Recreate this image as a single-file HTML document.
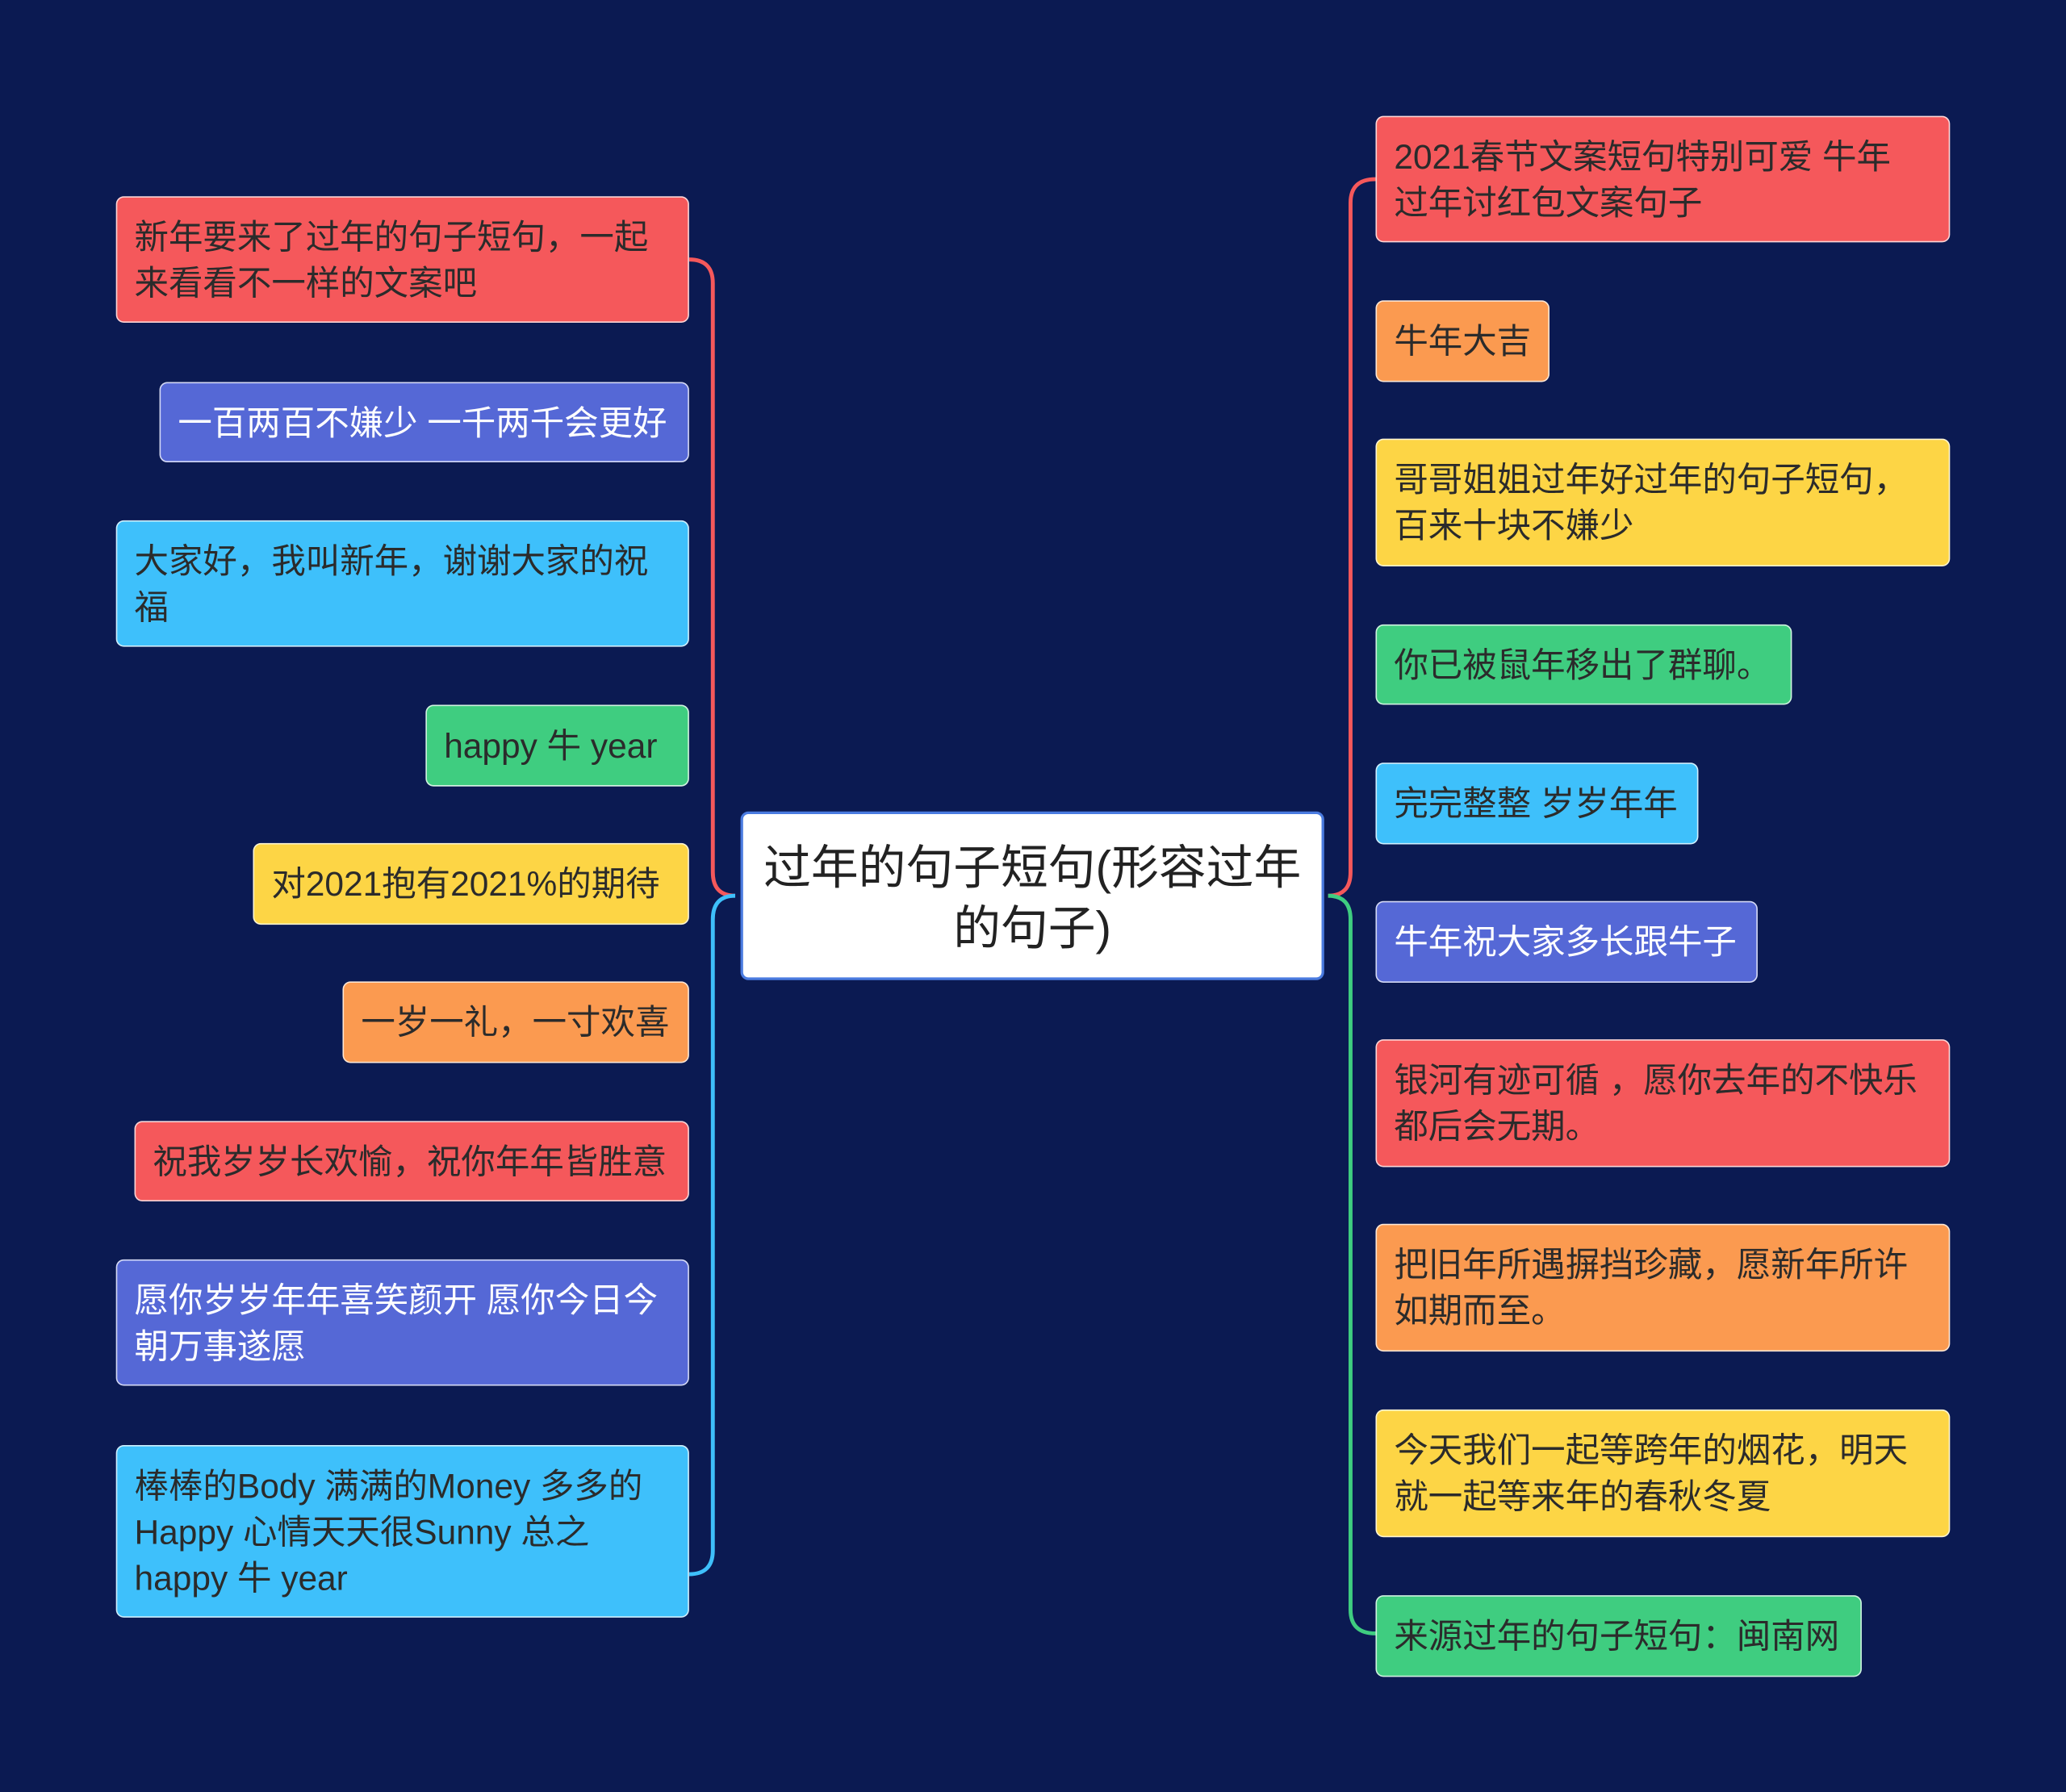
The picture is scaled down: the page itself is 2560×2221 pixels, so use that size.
<!DOCTYPE html>
<html><head><meta charset="utf-8"><style>
html,body{margin:0;padding:0;background:#0b1a52;overflow:hidden}
#w{position:absolute;left:0;top:0;width:1568px;height:1360px;transform:scale(1.63265);transform-origin:0 0;background:#0b1a52}
.n{position:absolute;box-sizing:border-box;border-radius:6px;border:1.5px solid rgba(255,255,255,0.75);font-family:"Liberation Sans","Noto Sans CJK SC",sans-serif;font-size:26px;line-height:35px;color:#2b2b2b;padding:13px 13px 9px;white-space:nowrap}
.r{background:#f5585b}.p{background:#5568d6;color:#fff}.b{background:#3ec0fb}.g{background:#3fcd80}.y{background:#fdd545}.o{background:#fb9a50}
.c{position:absolute;left:562px;top:616px;width:443px;height:128px;box-sizing:border-box;background:#fff;border:2px solid #4a7be0;border-radius:6px;font-family:"Liberation Sans","Noto Sans CJK SC",sans-serif;font-size:36px;line-height:46px;color:#222;text-align:center;padding-top:18px}
svg{position:absolute;left:0;top:0}
</style></head><body><div id="w">
<svg width="1568" height="1360" fill="none" stroke-width="3">
<path d="M523 197 Q541 197 541 215 L541 662 Q541 680 558 680" stroke="#f5585b"/>
<path d="M558 680 Q541 680 541 698 L541 1177 Q541 1195 523 1195" stroke="#3ec0fb"/>
<path d="M1044 136 Q1025 136 1025 154 L1025 662 Q1025 680 1008 680" stroke="#f5585b"/>
<path d="M1008 680 Q1025 680 1025 698 L1025 1222 Q1025 1240 1044 1240" stroke="#3fcd80"/>
</svg>
<div class="c">过年的句子短句(形容过年<br>的句子)</div>

<div class="n r" style="left:88px;top:149px;width:435px;height:96px">新年要来了过年的句子短句，一起<br>来看看不一样的文案吧</div>
<div class="n p" style="left:121px;top:290px;width:402px;height:61px">一百两百不嫌少 一千两千会更好</div>
<div class="n b" style="left:88px;top:395px;width:435px;height:96px">大家好，我叫新年，谢谢大家的祝<br>福</div>
<div class="n g" style="left:323px;top:535px;width:200px;height:62px">happy 牛 year</div>
<div class="n y" style="left:192px;top:640px;width:331px;height:62px">对2021抱有2021%的期待</div>
<div class="n o" style="left:260px;top:745px;width:263px;height:62px">一岁一礼，一寸欢喜</div>
<div class="n r" style="left:102px;top:851px;width:421px;height:61px">祝我岁岁长欢愉，祝你年年皆胜意</div>
<div class="n p" style="left:88px;top:956px;width:435px;height:96px">愿你岁岁年年喜笑颜开 愿你今日今<br>朝万事遂愿</div>
<div class="n b" style="left:88px;top:1097px;width:435px;height:131px">棒棒的Body 满满的Money 多多的<br>Happy 心情天天很Sunny 总之<br>happy 牛 year</div>

<div class="n r" style="left:1044px;top:88px;width:436px;height:96px">2021春节文案短句特别可爱 牛年<br>过年讨红包文案句子</div>
<div class="n o" style="left:1044px;top:228px;width:132px;height:62px">牛年大吉</div>
<div class="n y" style="left:1044px;top:333px;width:436px;height:97px">哥哥姐姐过年好过年的句子短句，<br>百来十块不嫌少</div>
<div class="n g" style="left:1044px;top:474px;width:316px;height:61px">你已被鼠年移出了群聊。</div>
<div class="n b" style="left:1044px;top:579px;width:245px;height:62px">完完整整 岁岁年年</div>
<div class="n p" style="left:1044px;top:684px;width:290px;height:62px">牛年祝大家多长跟牛子</div>
<div class="n r" style="left:1044px;top:789px;width:436px;height:97px">银河有迹可循 ，愿你去年的不快乐<br>都后会无期。</div>
<div class="n o" style="left:1044px;top:929px;width:436px;height:97px">把旧年所遇摒挡珍藏，愿新年所许<br>如期而至。</div>
<div class="n y" style="left:1044px;top:1070px;width:436px;height:97px">今天我们一起等跨年的烟花，明天<br>就一起等来年的春秋冬夏</div>
<div class="n g" style="left:1044px;top:1211px;width:369px;height:62px">来源过年的句子短句：闽南网</div>
</div></body></html>
